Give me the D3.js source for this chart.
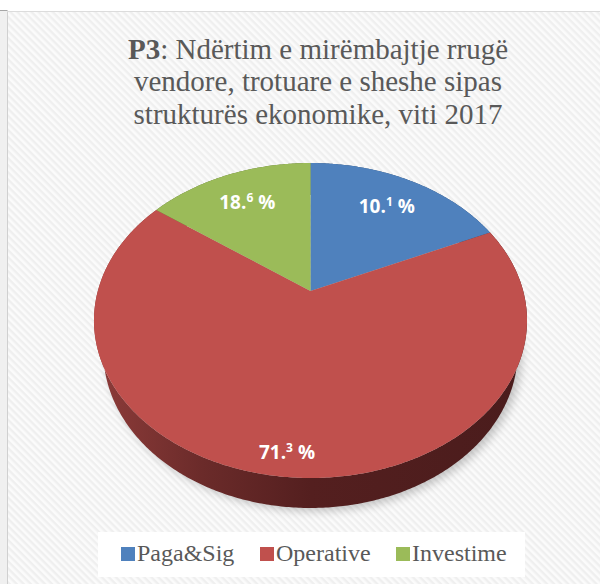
<!DOCTYPE html>
<html>
<head>
<meta charset="utf-8">
<script src="https://cdn.jsdelivr.net/npm/d3@7"></script>
<style>
  body { margin: 0; background: #fff; }
  svg { display: block; }
  .serif { font-family: "Liberation Serif", "Times New Roman", "DejaVu Serif", serif; }
</style>
</head>
<body>
<script>
var width = 600;
var height = 584;

// data
var categories = ["Paga&Sig", "Operative", "Investime"];
var labelValues = ["10.1", "71.3", "18.6"];   // percentages as printed on the slices
var sliceShares = [18.2, 66.9, 14.9];         // slice sizes as drawn in the picture
var colors = ["#4f81bd", "#c0504d", "#9bbb59"];
var titleLines = [
  [{t: "P3", b: true}, {t: ": Ndërtim e mirëmbajtje rrugë"}],
  [{t: "vendore, trotuare e sheshe sipas"}],
  [{t: "strukturës ekonomike, viti 2017"}]
];

// 3d pie projection
var cx = 310.5, cy = 291;
var tilt = 45.6 * Math.PI / 180;
var S = Math.sin(tilt), C = Math.cos(tilt);
var D = 3.734;      // camera distance (disk radius = 1)
var F = 794.2;      // focal length in px
var H = 0.227;      // thickness

function proj(a, w) {
  var u = Math.sin(a), v = Math.cos(a);
  var z = D + v * C - w * S;
  var up = v * S + w * C;
  return [cx + F * u / z, cy - F * up / z];
}
function projR(a, r) {
  var u = r * Math.sin(a), v = r * Math.cos(a);
  var z = D + v * C;
  return [cx + F * u / z, cy - F * v * S / z];
}
function arcPts(a0, a1, w) {
  var n = Math.max(2, Math.ceil(Math.abs(a1 - a0) / 0.01));
  return d3.range(n + 1).map(function(i) { return proj(a0 + (a1 - a0) * i / n, w); });
}

var svg = d3.select("body")
            .append("svg")
            .attr("width", width)
            .attr("height", height);

var defs = svg.append("defs");

var pat = defs.append("pattern")
  .attr("id", "stripes")
  .attr("patternUnits", "userSpaceOnUse")
  .attr("width", 5)
  .attr("height", 5)
  .attr("patternTransform", "rotate(45)");
pat.append("rect").attr("width", 5).attr("height", 5).attr("fill", "#fbfbfb");
pat.append("rect").attr("width", 5).attr("height", 2.4).attr("fill", "#efefef");

var grad = defs.append("linearGradient")
  .attr("id", "sideRed")
  .attr("gradientUnits", "userSpaceOnUse")
  .attr("x1", 94).attr("x2", 527).attr("y1", 0).attr("y2", 0);
grad.append("stop").attr("offset", "0").attr("stop-color", "#8e3c3a");
grad.append("stop").attr("offset", "0.25").attr("stop-color", "#6b2b2a");
grad.append("stop").attr("offset", "0.5").attr("stop-color", "#541f1f");
grad.append("stop").attr("offset", "1").attr("stop-color", "#4a1c1c");

defs.append("filter").attr("id", "blur")
  .attr("x", "-20%").attr("y", "-20%").attr("width", "140%").attr("height", "140%")
  .append("feGaussianBlur").attr("stdDeviation", 5);

// frame and background
svg.append("rect").attr("x", 0).attr("y", 10).attr("width", 7).attr("height", height - 10).attr("fill", "#f0f0f0");
svg.append("rect").attr("x", 8).attr("y", 12).attr("width", width - 8).attr("height", height - 12).attr("fill", "url(#stripes)");
svg.append("line").attr("x1", 0).attr("x2", 7).attr("y1", 10.5).attr("y2", 10.5).attr("stroke", "#a6a6a6");
svg.append("line").attr("x1", 7.5).attr("x2", 7.5).attr("y1", 10).attr("y2", height).attr("stroke", "#d0d0d0");
svg.append("line").attr("x1", 7).attr("x2", width).attr("y1", 11.5).attr("y2", 11.5).attr("stroke", "#dcdcdc");

// title
var titleBase = [58.5, 91, 123.5];
titleLines.forEach(function(line, i) {
  var row = svg.append("text")
    .attr("class", "serif")
    .attr("text-anchor", "middle")
    .attr("x", 318)
    .attr("y", titleBase[i])
    .attr("font-size", 29)
    .attr("fill", "#595959");
  line.forEach(function(part) {
    row.append("tspan").text(part.t).attr("font-weight", part.b ? "bold" : null);
  });
});

// pie
var pie = d3.pie().sort(null).value(function(d) { return d; });
var arcs = pie(sliceShares);
var line = d3.line();

var g = svg.append("g");

// soft shadow under the pie
var shadowPts = arcPts(0, 2 * Math.PI, -H).map(function(p) { return [p[0] + 4, p[1] + 3]; });
g.append("path")
  .attr("d", line(shadowPts) + "Z")
  .attr("fill", "#000")
  .attr("opacity", 0.22)
  .attr("filter", "url(#blur)");

// outer walls
g.selectAll(".wall")
  .data(arcs)
  .enter().append("path")
  .attr("class", "wall")
  .attr("d", function(d) {
    var top = arcPts(d.startAngle, d.endAngle, 0);
    var bot = arcPts(d.startAngle, d.endAngle, -H).reverse();
    return line(top.concat(bot)) + "Z";
  })
  .attr("fill", function(d, i) { return i === 1 ? "url(#sideRed)" : d3.color(colors[i]).darker(1.5); });

// top faces
g.selectAll(".top")
  .data(arcs)
  .enter().append("path")
  .attr("class", "top")
  .attr("d", function(d) {
    return line([[cx, cy]].concat(arcPts(d.startAngle, d.endAngle, 0))) + "Z";
  })
  .attr("fill", function(d, i) { return colors[i]; });

// labels
var lab = g.selectAll(".lab")
  .data(arcs)
  .enter().append("text")
  .attr("class", "lab")
  .attr("text-anchor", "middle")
  .attr("font-family", "'Open Sans', sans-serif")
  .attr("font-weight", "bold")
  .attr("font-size", 19)
  .attr("fill", "#fff")
  .attr("transform", function(d) {
    var r = (d.endAngle - d.startAngle) > Math.PI ? 0.89 : 0.74;
    var p = projR((d.startAngle + d.endAngle) / 2, r);
    return "translate(" + p[0] + "," + (p[1] + 7) + ")";
  });
lab.each(function(d, i) {
  var parts = labelValues[i].split(".");
  var t = d3.select(this);
  t.append("tspan").text(parts[0] + ".");
  t.append("tspan").attr("font-size", 12).attr("dy", -7).text(parts[1]);
  t.append("tspan").attr("dy", 7).text("\u00a0%");
});

// legend
svg.append("rect").attr("x", 98).attr("y", 532).attr("width", 427).attr("height", 45).attr("fill", "#fff");
var legX = [121, 260, 396];
var leg = svg.selectAll(".leg")
  .data(categories)
  .enter().append("g")
  .attr("class", "leg")
  .attr("transform", function(d, i) { return "translate(" + legX[i] + ",547)"; });
leg.append("rect").attr("width", 14).attr("height", 14).attr("fill", function(d, i) { return colors[i]; });
leg.append("text")
  .attr("class", "serif")
  .attr("x", 16)
  .attr("y", 13.5)
  .attr("font-size", 24)
  .attr("fill", "#595959")
  .text(function(d) { return d; });
</script>
</body>
</html>
